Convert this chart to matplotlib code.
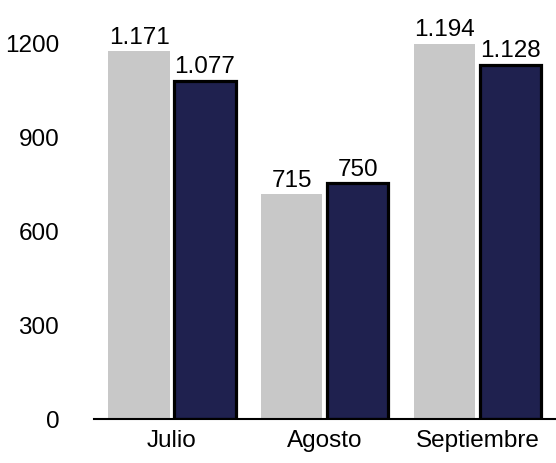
import numpy as np
import matplotlib.pyplot as plt

plt.rcParams['font.family'] = ['Liberation Sans', 'DejaVu Sans']

months = ['Julio', 'Agosto', 'Septiembre']
serie_gris = [1171, 715, 1194]
serie_azul = [1077, 750, 1128]
yticks = [0, 300, 600, 900, 1200]


def fmt(v):
    return f'{v:,}'.replace(',', '.')


fig = plt.figure(figsize=(5.56, 4.64), dpi=100)
ax = fig.add_axes([0.169, 0.095, 0.831, 0.866])

x = np.arange(len(months))
w = 0.40
b1 = ax.bar(x - 0.216, serie_gris, w, color='#c8c8c8', edgecolor='none')
b2 = ax.bar(x + 0.216, serie_azul, w, color='#1f214f', edgecolor='black', linewidth=2.3)

for bars, vals in [(b1, serie_gris), (b2, serie_azul)]:
    for r, v in zip(bars, vals):
        ax.text(r.get_x() + r.get_width() / 2, v + 12, fmt(v),
                ha='center', va='bottom', fontsize=17.5, clip_on=False)

ax.set_xlim(-0.511, 2.514)
ax.set_ylim(0, 1280)
ax.set_xticks(x)
ax.set_xticklabels(months, fontsize=17.5)
ax.set_yticks(yticks)
ax.set_yticklabels([str(t) for t in yticks], fontsize=17.5)
ax.tick_params(length=0)
ax.tick_params(axis='y', pad=25)
ax.tick_params(axis='x', pad=7)
for s in ['top', 'right', 'left']:
    ax.spines[s].set_visible(False)
ax.spines['bottom'].set_linewidth(1.5)

plt.savefig('out.png', dpi=100)
